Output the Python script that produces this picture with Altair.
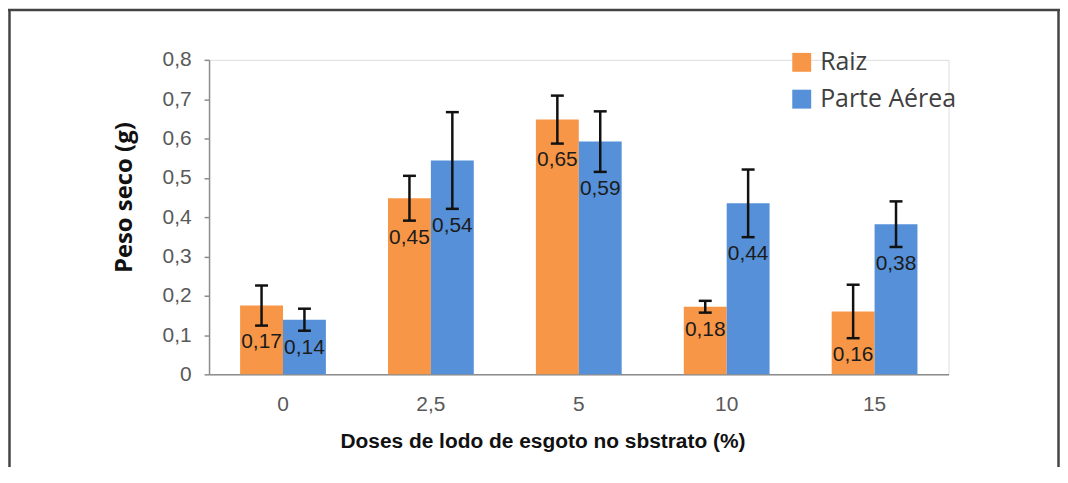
import altair as alt
import pandas as pd

doses = ["0", "2,5", "5", "10", "15"]
series = ["Raiz", "Parte Aérea"]
raiz = [0.175, 0.448, 0.648, 0.172, 0.160]
raiz_err = [0.051, 0.057, 0.061, 0.015, 0.068]
raiz_lbl = ["0,17", "0,45", "0,65", "0,18", "0,16"]
parte = [0.139, 0.544, 0.592, 0.435, 0.382]
parte_err = [0.028, 0.123, 0.077, 0.086, 0.058]
parte_lbl = ["0,14", "0,54", "0,59", "0,44", "0,38"]
y_ticks = [0, 0.1, 0.2, 0.3, 0.4, 0.5, 0.6, 0.7, 0.8]

rows = []
for name, vals, errs, lbls in [("Raiz", raiz, raiz_err, raiz_lbl),
                                ("Parte Aérea", parte, parte_err, parte_lbl)]:
    for d, v, e, l in zip(doses, vals, errs, lbls):
        rows.append({"dose": d, "serie": name, "valor": v,
                     "low": v - e, "high": v + e, "rotulo": l})
df = pd.DataFrame(rows)

W, H = 743, 316
PL, PT, PR, PB = 202, 51, 112, 93

x_axis = alt.Axis(title="Doses de lodo de esgoto no sbstrato (%)",
                  labelAngle=0, ticks=False, labelPadding=19,
                  labelFont="Liberation Sans", labelFontSize=21,
                  labelColor="#595959", domainColor="#8c8c8c",
                  domainWidth=1.5,
                  titleFont="Liberation Sans", titleFontSize=21,
                  titleFontWeight="bold", titleColor="#111111",
                  titleX=335, titleY=73, titleAlign="center",
                  titleBaseline="alphabetic")
x_scale = alt.Scale(paddingInner=0.42, paddingOuter=0.21)

y_axis = alt.Axis(title="Peso seco (g)", values=y_ticks, grid=False,
                  labelOverlap=False, tickCount=9,
                  labelExpr="datum.value == 0 ? '0' : replace(format(datum.value, '.1f'), '.', ',')",
                  labelFont="Liberation Sans", labelFontSize=21,
                  labelColor="#595959", labelPadding=13,
                  tickSize=5, tickColor="#8c8c8c", domainColor="#8c8c8c",
                  domainWidth=1.5, tickWidth=1.5,
                  titleFont="Open Sans", titleFontSize=24,
                  titleFontWeight="bold", titleColor="#111111",
                  titleX=-78, titleY=138, titleAngle=-90,
                  titleAlign="center", titleBaseline="alphabetic")
y_scale = alt.Scale(domain=[0, 0.8], nice=False, zero=True)

def xe():
    return alt.X("dose:N", sort=doses, scale=x_scale, axis=x_axis)

def ye(field):
    return alt.Y(field, scale=y_scale, axis=y_axis)

xo_enc = alt.XOffset("serie:N", sort=series,
                     scale=alt.Scale(paddingInner=0, paddingOuter=0))
color_enc = alt.Color("serie:N", sort=series,
                      scale=alt.Scale(domain=series, range=["#F79646", "#5590D8"]),
                      legend=alt.Legend(title=None, orient="none",
                                        legendX=583, legendY=-10,
                                        symbolType="square", symbolSize=361,
                                        symbolStrokeWidth=0, symbolOpacity=1,
                                        labelFont="Open Sans", labelFontSize=25,
                                        labelColor="#404040", labelOffset=6,
                                        rowPadding=11, padding=0))

base = alt.Chart(df)

bars = base.mark_bar(strokeWidth=0).encode(
    x=xe(), xOffset=xo_enc, y=ye("valor:Q"), color=color_enc)

err_rule = base.mark_rule(color="#111111", strokeWidth=2.5).encode(
    x=xe(), xOffset=xo_enc, y=ye("low:Q"), y2="high:Q")

cap_hi = base.mark_tick(color="#111111", thickness=2.5, size=13, opacity=1).encode(
    x=xe(), xOffset=xo_enc, y=ye("high:Q"))
cap_lo = base.mark_tick(color="#111111", thickness=2.5, size=13, opacity=1).encode(
    x=xe(), xOffset=xo_enc, y=ye("low:Q"))

labels = base.mark_text(font="Liberation Sans", fontSize=21, color="#1c1c1c",
                        baseline="middle", align="center", dy=17).encode(
    x=xe(), xOffset=xo_enc, y=ye("low:Q"), text="rotulo:N")

frame_df = pd.DataFrame({"k": [0]})
frame_base = alt.Chart(frame_df)
frame_left = frame_base.mark_rule(color="#444444", strokeWidth=2.5).encode(
    x=alt.value(-PL + 1.5), y=alt.value(-PT), y2=alt.value(H + PB))
frame_right = frame_base.mark_rule(color="#444444", strokeWidth=2.5).encode(
    x=alt.value(W + PR - 1.5), y=alt.value(-PT), y2=alt.value(H + PB))
frame_top = frame_base.mark_rule(color="#444444", strokeWidth=2.5).encode(
    y=alt.value(-PT + 1), x=alt.value(-PL), x2=alt.value(W + PR))

chart = alt.layer(bars, err_rule, cap_hi, cap_lo, labels,
                  frame_left, frame_right, frame_top).properties(
    width=W, height=H,
    autosize=alt.AutoSizeParams(type="none"),
    padding={"left": PL, "top": PT, "right": PR, "bottom": PB},
).configure_view(stroke=None).configure(background="white")

chart.save("out.html", embed_options={"renderer": "svg", "actions": False})
